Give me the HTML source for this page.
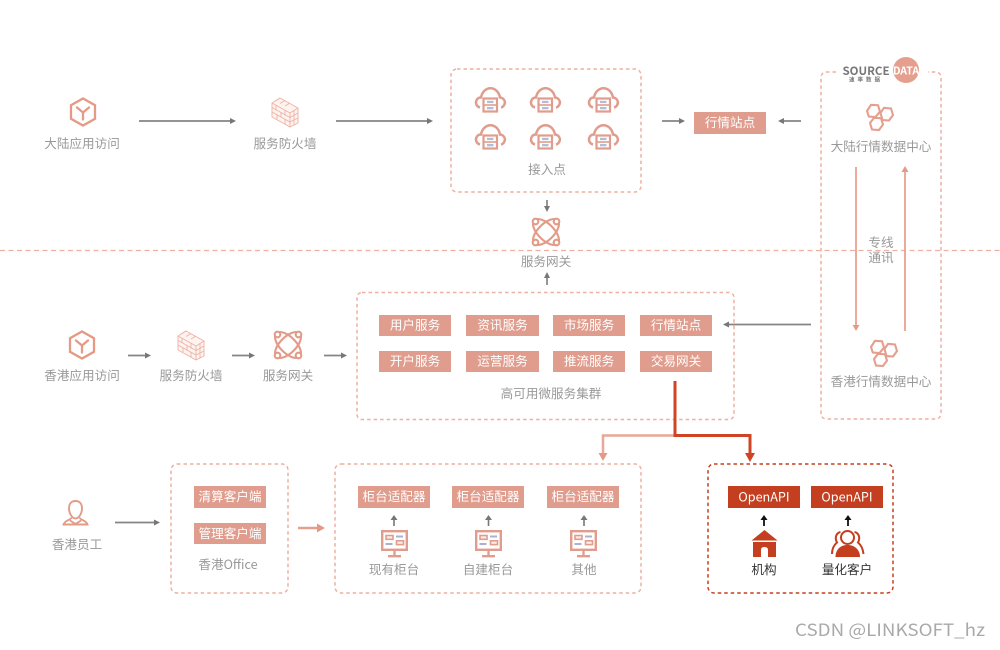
<!DOCTYPE html>
<html><head><meta charset="utf-8"><style>
html,body{margin:0;padding:0;background:#fff}
svg{display:block}
text{font-family:"Noto Sans CJK SC","Liberation Sans",sans-serif}
.t{font-size:12.6px;fill:#999;text-anchor:middle}
.w{font-size:12.6px;fill:#fff;text-anchor:middle}
.o{font-size:12.6px;fill:#fff;text-anchor:middle}
.d{fill:none;stroke:#eeb0a0;stroke-width:1.5;stroke-dasharray:3.5 3}
.g{stroke:#858585;stroke-width:1.7;fill:none}
.ga{fill:#777}
.b{fill:#e09c8c}
</style></head><body>
<svg width="1000" height="650" viewBox="0 0 1000 650" xmlns="http://www.w3.org/2000/svg">
<defs>
<g id="cube" fill="none" stroke="#e59a85" stroke-width="2.300"><path d="M12 0.500 24 7.200V20.800L12 27.500 0 20.800V7.200Z"/><path d="M6 9.500 12 14.500 18 9.500M12 14.500V21.500" stroke-linecap="round"/></g>
<g id="wall" fill="none" stroke="#eeb2a3" stroke-width=".9"><path d="M9 1 27 11V26L19 30 1 20V6Z" fill="#fdf4f1"/><path d="M1 6 19 16 27 11M1 10.500 19 20.500 27 16M1 15 19 25 27 21M9 1 4 4M14 3.500 9 6.500 M19 6 14 9M19 16V30M5 8V13M10 15.500V20M14 13.500V18.500M6 17.500V22M14 22.500V27M23 13.500V19M23 18.500V28"/></g>
<g id="star" fill="none" stroke="#e39b88" stroke-width="2.100"><ellipse cx="14" cy="14" rx="16.500" ry="8" transform="rotate(45 14 14)"/><ellipse cx="14" cy="14" rx="16.500" ry="8" transform="rotate(-45 14 14)"/><circle cx="3.500" cy="3.500" r="2.800" fill="#fff"/><circle cx="24.500" cy="3.500" r="2.800" fill="#fff"/><circle cx="3.500" cy="24.500" r="2.800" fill="#fff"/><circle cx="24.500" cy="24.500" r="2.800" fill="#fff"/></g>
<g id="cloud"><path d="M5 20.500C1.500 19.500 .5 16.500 1.200 14 2 11.500 4 10.500 6 10.500 7 5 11 1.200 15.500 1.200S24 5 25 10.500C27 10.500 29.200 12 29.800 14.500 30.300 17 28.500 20 26 20.500" fill="none" stroke="#e09c8c" stroke-width="2.500"/><rect x="8.500" y="11.500" width="13.500" height="13" fill="#fff" stroke="#e09c8c" stroke-width="2.200"/><path d="M8.500 18H22" stroke="#e09c8c" stroke-width="1.600"/><rect x="12" y="13.800" width="6.500" height="2.300" fill="#b5bcd6"/><rect x="12" y="20" width="6.500" height="2.300" fill="#b5bcd6"/></g>
<g id="hex" fill="none" stroke="#e59f8e" stroke-width="2.100"><path d="M2 8 6 1.800 13 2.200 15 8.500 10.500 14 3.800 13.500Z"/><path d="M15.500 10 19 4.800 26 5.500 28 12 24 17.500 17.500 17Z"/><path d="M5 20 9 14.800 16 15.200 18 21.500 14 27 7 26.500Z"/></g>
<g id="mon"><rect x="1.200" y="1.200" width="24.600" height="18.600" fill="none" stroke="#e09c8c" stroke-width="2.400"/><path d="M13.500 20V26M7 26.200H20" stroke="#e09c8c" stroke-width="2.300"/><rect x="5" y="5.500" width="7" height="3.800" fill="#fbeeea" stroke="#e09c8c" stroke-width="1.600"/><rect x="15.500" y="10.800" width="7" height="3.800" fill="#fbeeea" stroke="#e09c8c" stroke-width="1.600"/><path d="M15 6.500H22M4.500 14H11.500" stroke="#a9b1d0" stroke-width="2"/></g>
<path id="tip" d="M0 0 -6 -3V3Z"/>
</defs>

<!-- dashed divider -->
<line x1="0" y1="250.500" x2="1000" y2="250.500" stroke="#eeb0a0" stroke-width="1.300" stroke-dasharray="5 3.500"/>

<!-- dashed containers -->
<rect class="d" x="451" y="69" width="190" height="123" rx="6"/>
<path class="d" d="M836 72H827Q821 72 821 78V413Q821 419 827 419H935Q941 419 941 413V78Q941 72 935 72H928"/>
<rect class="d" x="357" y="292.500" width="377" height="127" rx="5"/>
<rect class="d" x="171" y="464" width="117" height="129" rx="6"/>
<rect class="d" x="335" y="464" width="306" height="129" rx="6"/>
<rect x="708" y="464" width="185" height="129" rx="6" fill="none" stroke="#c4401f" stroke-width="1.500" stroke-dasharray="3.500 3"/>

<!-- row 1 -->
<use href="#cube" x="71" y="98"/>
<text class="t" x="82" y="148">大陆应用访问</text>
<path class="g" d="M139 121H231"/><use href="#tip" class="ga" x="236" y="121"/>
<use href="#wall" x="271" y="97"/>
<text class="t" x="285" y="148">服务防火墙</text>
<path class="g" d="M336 121H428"/><use href="#tip" class="ga" x="433" y="121"/>

<use href="#cloud" x="475" y="87"/><use href="#cloud" x="530" y="87"/><use href="#cloud" x="588" y="87"/>
<use href="#cloud" x="475" y="124"/><use href="#cloud" x="530" y="124"/><use href="#cloud" x="588" y="124"/>
<text class="t" x="547" y="174">接入点</text>

<path class="g" d="M662 121H680"/><use href="#tip" class="ga" x="685" y="121"/>
<rect class="b" x="694" y="112" width="72" height="22"/>
<text class="w" x="730" y="127">行情站点</text>
<path class="g" d="M801 121H783"/><use href="#tip" class="ga" transform="translate(778 121) rotate(180)"/>

<path class="g" d="M547 200V208"/><use href="#tip" class="ga" transform="translate(547 212) rotate(90)"/>
<use href="#star" x="532" y="218"/>
<text class="t" x="546" y="266">服务网关</text>
<path class="g" d="M547 285V277"/><use href="#tip" class="ga" transform="translate(547 272) rotate(-90)"/>

<!-- logo -->
<circle cx="906" cy="70" r="13" fill="#e59f8e"/>
<text x="866" y="75" text-anchor="middle" style="font-size:11.500px;font-weight:700;fill:#777">SOURCE</text>
<text x="906" y="74.500" text-anchor="middle" style="font-size:10.500px;font-weight:700;fill:#fff">DATA</text>
<text x="866" y="81.500" text-anchor="middle" style="font-size:5.500px;font-weight:700;fill:#777;letter-spacing:3px">速率数据</text>

<!-- data centers -->
<use href="#hex" x="865" y="103"/>
<text class="t" x="881" y="151">大陆行情数据中心</text>
<path d="M856 167V325" stroke="#e9a08f" stroke-width="1.800" fill="none"/><path d="M856 331 852.500 325H859.500Z" fill="#e39b88"/>
<path d="M905 331V172" stroke="#e9a08f" stroke-width="1.800" fill="none"/><path d="M905 166 901.500 172H908.500Z" fill="#e39b88"/>
<text class="t" x="881" y="247">专线</text>
<text class="t" x="881" y="262">通讯</text>
<use href="#hex" x="869" y="339"/>
<text class="t" x="881" y="386">香港行情数据中心</text>

<!-- row 2 -->
<use href="#cube" x="70" y="331"/>
<text class="t" x="82" y="380">香港应用访问</text>
<path class="g" d="M128 355.500H146"/><use href="#tip" class="ga" x="151" y="355.500"/>
<use href="#wall" x="177" y="330"/>
<text class="t" x="191" y="380">服务防火墙</text>
<path class="g" d="M232 355.500H250"/><use href="#tip" class="ga" x="255" y="355.500"/>
<use href="#star" x="274" y="331"/>
<text class="t" x="288" y="380">服务网关</text>
<path class="g" d="M324 355.500H342"/><use href="#tip" class="ga" x="347" y="355.500"/>

<g>
<rect class="b" x="379" y="315" width="72" height="21"/><text class="w" x="415" y="329.500">用户服务</text>
<rect class="b" x="466" y="315" width="73" height="21"/><text class="w" x="502.500" y="329.500">资讯服务</text>
<rect class="b" x="553" y="315" width="72" height="21"/><text class="w" x="589" y="329.500">市场服务</text>
<rect class="b" x="640" y="315" width="72" height="21"/><text class="w" x="676" y="329.500">行情站点</text>
<rect class="b" x="379" y="351" width="72" height="21"/><text class="w" x="415" y="365.500">开户服务</text>
<rect class="b" x="466" y="351" width="73" height="21"/><text class="w" x="502.500" y="365.500">运营服务</text>
<rect class="b" x="553" y="351" width="72" height="21"/><text class="w" x="589" y="365.500">推流服务</text>
<rect class="b" x="640" y="351" width="72" height="21"/><text class="w" x="676" y="365.500">交易网关</text>
</g>
<text class="t" x="551" y="398">高可用微服务集群</text>
<path class="g" d="M811 324.500H728"/><use href="#tip" class="ga" transform="translate(723 324.500) rotate(180)"/>

<!-- connectors -->
<path d="M675 435.500H603V455" fill="none" stroke="#e9a797" stroke-width="2.500"/>
<path d="M603 461 598.500 453H607.500Z" fill="#e39b88"/>
<path d="M675 381V435.500H750V454" fill="none" stroke="#cf4425" stroke-width="3"/>
<path d="M750 462 745 453H755Z" fill="#cf4425"/>

<!-- row 3 -->
<g fill="none" stroke="#e39b88" stroke-width="1.900">
<path d="M75.500 501C71 501 69 504 69 508.500 69 513 72 518.500 75.500 518.500 79 518.500 82 513 82 508.500 82 504 80 501 75.500 501Z"/>
<path d="M71.500 517.500C71 520 65 520 63.500 524.500H87.500C86 520 80 520 79.500 517.500M70 520.500 75.500 524 81 520.500"/>
</g>
<text class="t" x="77" y="549">香港员工</text>
<path class="g" d="M115 522.500H155"/><use href="#tip" class="ga" x="160" y="522.500"/>

<rect class="b" x="194" y="486" width="72" height="22"/><text class="w" x="230" y="501">清算客户端</text>
<rect class="b" x="194" y="523" width="72" height="21"/><text class="w" x="230" y="538">管理客户端</text>
<text class="t" x="228" y="569">香港Office</text>

<path d="M298 528H319" stroke="#e59f8e" stroke-width="2.500" fill="none"/><path d="M325 528 317 523.500V532.500Z" fill="#e39b88"/>

<rect class="b" x="358" y="486" width="72" height="22"/><text class="w" x="394" y="501">柜台适配器</text>
<rect class="b" x="452" y="486" width="72" height="22"/><text class="w" x="488" y="501">柜台适配器</text>
<rect class="b" x="547" y="486" width="72" height="22"/><text class="w" x="583" y="501">柜台适配器</text>
<g fill="#777" stroke="none">
<path d="M394 515 397.500 520H394.800V526H393.200V520H390.500Z"/>
<path d="M488.500 515 492 520H489.300V526H487.700V520H485Z"/>
<path d="M584 515 587.500 520H584.800V526H583.200V520H580.500Z"/>
</g>
<use href="#mon" x="381" y="530"/><use href="#mon" x="475" y="530"/><use href="#mon" x="570" y="530"/>
<text class="t" x="394" y="574">现有柜台</text>
<text class="t" x="488" y="574">自建柜台</text>
<text class="t" x="584" y="574">其他</text>

<rect x="728" y="486" width="72" height="22" fill="#c33f1f"/><text class="o" x="764" y="501.500">OpenAPI</text>
<rect x="811" y="486" width="72" height="22" fill="#c33f1f"/><text class="o" x="847" y="501.500">OpenAPI</text>
<g fill="#111">
<path d="M764 515 767.500 520H764.900V526H763.100V520H760.500Z"/>
<path d="M848 515 851.500 520H848.900V526H847.100V520H844.500Z"/>
</g>
<path d="M764.500 530 777.500 540.500H751.500Z" fill="#c33f1f"/>
<rect x="753" y="542" width="23" height="15" fill="#c33f1f"/>
<path d="M761 557V550Q761 547 764.500 547T768 550V557Z" fill="#fff"/>
<path d="M847.500 545C840 545 835.500 550 835.500 557H860C860 550 855 545 847.500 545Z" fill="#c33f1f"/>
<g fill="none" stroke="#c33f1f" stroke-width="2">
<circle cx="847.500" cy="537.500" r="6.500" fill="#fff"/>
<path d="M840.500 532C836 533 834.500 538 837 542.500 834 545 832 549 832 554M854.500 532C859 533 860.500 538 858 542.500 861 545 863 549 863.500 554"/>
</g>
<text x="764" y="574" text-anchor="middle" style="font-size:12.600px;fill:#333">机构</text>
<text x="847" y="574" text-anchor="middle" style="font-size:12.600px;fill:#333">量化客户</text>

<!-- watermark -->
<text x="795" y="636" textLength="190" lengthAdjust="spacingAndGlyphs" style="font-size:17px;fill:#a9a9a9">CSDN @LINKSOFT_hz</text>
</svg>
</body></html>
